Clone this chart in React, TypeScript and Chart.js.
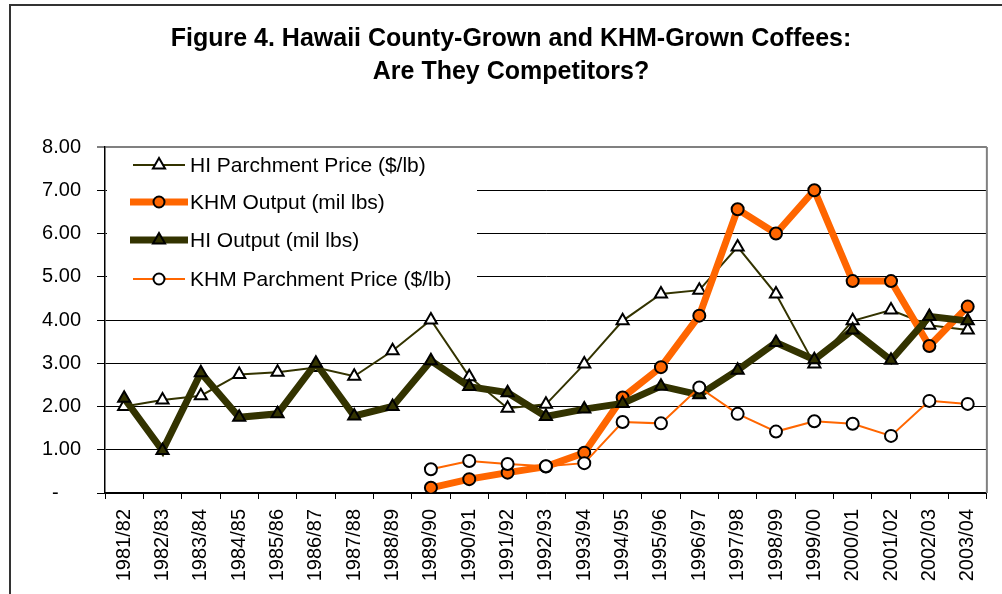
import React, { useEffect, useRef } from 'react';
import { Chart, registerables } from 'chart.js';

Chart.register(...registerables);

const categories = [
  '1981/82', '1982/83', '1983/84', '1984/85', '1985/86', '1986/87', '1987/88', '1988/89',
  '1989/90', '1990/91', '1991/92', '1992/93', '1993/94', '1994/95', '1995/96', '1996/97',
  '1997/98', '1998/99', '1999/00', '2000/01', '2001/02', '2002/03', '2003/04',
];

const hiParchmentPrice = [2.0, 2.15, 2.25, 2.74, 2.79, 2.9, 2.7, 3.29, 4.0, 2.69, 1.96, 2.05, 2.98, 3.98, 4.6, 4.69, 5.69, 4.6, 2.98, 3.98, 4.23, 3.88, 3.77];
const khmOutput = [null, null, null, null, null, null, null, null, 0.12, 0.32, 0.47, 0.61, 0.93, 2.21, 2.91, 4.1, 6.56, 6.0, 7.0, 4.9, 4.9, 3.4, 4.31];
const hiOutput = [2.19, 0.98, 2.78, 1.75, 1.83, 3.0, 1.78, 2.0, 3.06, 2.46, 2.32, 1.77, 1.94, 2.07, 2.47, 2.27, 2.84, 3.48, 3.08, 3.77, 3.07, 4.08, 3.98];
const khmParchmentPrice = [null, null, null, null, null, null, null, null, 0.55, 0.74, 0.67, 0.62, 0.69, 1.64, 1.61, 2.44, 1.83, 1.42, 1.66, 1.6, 1.32, 2.13, 2.06];

const yTicks = [0, 1, 2, 3, 4, 5, 6, 7, 8];
const titleLines = ['Figure 4. Hawaii County-Grown and KHM-Grown Coffees:', 'Are They Competitors?'];

const OLIVE = '#333300';
const ORANGE = '#FF6600';
const FONT = '"Liberation Sans", Arial, sans-serif';

function drawMarker(ctx: CanvasRenderingContext2D, style: string, x: number, y: number, r: number, fill: string, lw: number) {
  ctx.save();
  ctx.beginPath();
  if (style === 'triangle') {
    let rad = 0;
    ctx.moveTo(x + Math.sin(rad) * r, y - Math.cos(rad) * r);
    rad += (2 * Math.PI) / 3;
    ctx.lineTo(x + Math.sin(rad) * r, y - Math.cos(rad) * r);
    rad += (2 * Math.PI) / 3;
    ctx.lineTo(x + Math.sin(rad) * r, y - Math.cos(rad) * r);
    ctx.closePath();
  } else {
    ctx.arc(x, y, r, 0, Math.PI * 2);
  }
  ctx.fillStyle = fill;
  ctx.fill();
  ctx.lineWidth = lw;
  ctx.strokeStyle = '#000';
  ctx.stroke();
  ctx.restore();
}

const decorPlugin = {
  id: 'decor',
  beforeDraw(chart: any) {
    const ctx = chart.ctx as CanvasRenderingContext2D;
    ctx.save();
    // outer frame
    ctx.strokeStyle = '#333';
    ctx.lineWidth = 2;
    ctx.beginPath();
    ctx.moveTo(10, 600);
    ctx.lineTo(10, 5);
    ctx.lineTo(1010, 5);
    ctx.stroke();
    // title
    ctx.fillStyle = '#000';
    ctx.font = 'bold 25px ' + FONT;
    ctx.textAlign = 'center';
    ctx.textBaseline = 'middle';
    ctx.fillText(titleLines[0], 511, 39);
    ctx.fillText(titleLines[1], 511, 72);
    ctx.restore();
  },
  beforeDatasetsDraw(chart: any) {
    const ctx = chart.ctx as CanvasRenderingContext2D;
    const area = chart.chartArea;
    ctx.save();
    // right plot border
    ctx.strokeStyle = '#808080';
    ctx.lineWidth = 2;
    ctx.beginPath();
    ctx.moveTo(area.right, area.top);
    ctx.lineTo(area.right, area.bottom);
    ctx.stroke();
    // legend background
    ctx.fillStyle = '#fff';
    ctx.fillRect(area.left + 2, area.top + 2, 477 - area.left - 2, 300 - area.top - 2);
    const rows = [165, 202, 240, 279];
    const items = [0, 1, 2, 3].map((i) => chart.data.datasets[i]);
    items.forEach((ds: any, i: number) => {
      const y = rows[i];
      const thick = ds.borderWidth > 4;
      ctx.strokeStyle = ds.borderColor;
      ctx.lineWidth = ds.borderWidth;
      ctx.beginPath();
      ctx.moveTo(thick ? 130 : 133, y);
      ctx.lineTo(thick ? 188 : 185, y);
      ctx.stroke();
      drawMarker(ctx, ds.pointStyle, 159, y, ds.pointStyle === 'triangle' ? 7 : 5.5, ds.pointBackgroundColor, 2);
      ctx.fillStyle = '#000';
      ctx.font = '21px ' + FONT;
      ctx.textAlign = 'left';
      ctx.textBaseline = 'middle';
      ctx.fillText(ds.label, 190, y + 1);
    });
    ctx.restore();
  },
};

export default function App() {
  const canvasRef = useRef<HTMLCanvasElement | null>(null);

  useEffect(() => {
    if (!canvasRef.current) return;
    const chart = new Chart(canvasRef.current, {
      type: 'line',
      data: {
        labels: categories,
        datasets: [
          {
            label: 'HI Parchment Price ($/lb)',
            data: hiParchmentPrice,
            borderColor: OLIVE,
            borderWidth: 2,
            pointStyle: 'triangle',
            pointRadius: 7,
            pointBackgroundColor: '#ffffff',
            pointBorderColor: '#000',
            pointBorderWidth: 2,
            tension: 0,
            order: 3,
          },
          {
            label: 'KHM Output (mil lbs)',
            data: khmOutput,
            borderColor: ORANGE,
            borderWidth: 7,
            pointStyle: 'circle',
            pointRadius: 6,
            pointBackgroundColor: ORANGE,
            pointBorderColor: '#000',
            pointBorderWidth: 2,
            tension: 0,
            order: 2,
          },
          {
            label: 'HI Output (mil lbs)',
            data: hiOutput,
            borderColor: OLIVE,
            borderWidth: 7,
            pointStyle: 'triangle',
            pointRadius: 7,
            pointBackgroundColor: OLIVE,
            pointBorderColor: '#000',
            pointBorderWidth: 2,
            tension: 0,
            order: 1,
          },
          {
            label: 'KHM Parchment Price ($/lb)',
            data: khmParchmentPrice,
            borderColor: ORANGE,
            borderWidth: 2,
            pointStyle: 'circle',
            pointRadius: 6,
            pointBackgroundColor: '#ffffff',
            pointBorderColor: '#000',
            pointBorderWidth: 2,
            tension: 0,
            order: 0,
          },
        ],
      },
      options: {
        responsive: false,
        animation: false,
        events: [],
        layout: { padding: { top: 147, right: 14, bottom: 0, left: 0 } },
        plugins: {
          legend: { display: false },
          title: { display: false },
          tooltip: { enabled: false },
        },
        scales: {
          x: {
            type: 'category',
            offset: true,
            afterFit: (scale: any) => { scale.height = 101; },
            grid: {
              offset: true,
              drawOnChartArea: false,
              drawTicks: true,
              tickLength: 6,
              color: '#000',
              tickColor: '#000',
            },
            border: { color: '#000', width: 1.5 },
            ticks: {
              autoSkip: false,
              minRotation: 90,
              maxRotation: 90,
              padding: 10,
              color: '#000',
              font: { family: FONT, size: 20 },
            },
          },
          y: {
            min: 0,
            max: 8,
            afterFit: (scale: any) => { scale.width = 105; },
            afterBuildTicks: (scale: any) => { scale.ticks = yTicks.map((v) => ({ value: v })); },
            grid: {
              color: (c: any) => (c.tick && c.tick.value === 8 ? '#808080' : '#000'),
              lineWidth: (c: any) => (c.tick && c.tick.value === 8 ? 2 : 1),
              tickColor: '#000',
              tickWidth: 1,
              tickLength: 8,
              drawTicks: true,
            },
            border: { color: '#000', width: 1.5 },
            ticks: {
              padding: 16,
              color: '#000',
              font: { family: FONT, size: 20 },
              callback: (v: any) => (Number(v) === 0 ? '-    ' : Number(v).toFixed(2)),
            },
          },
        },
      },
      plugins: [decorPlugin],
    });
    return () => chart.destroy();
  }, []);

  return (
    <div style={{ position: 'absolute', left: 0, top: 0, width: 1002, height: 594, background: '#fff' }}>
      <canvas ref={canvasRef} width={1002} height={594} style={{ width: 1002, height: 594, display: 'block' }} />
    </div>
  );
}
